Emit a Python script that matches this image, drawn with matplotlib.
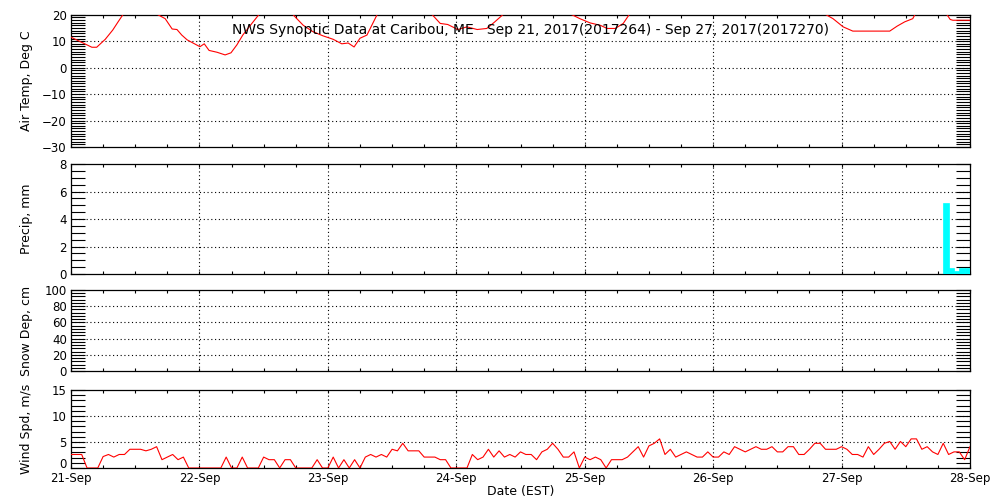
import matplotlib
matplotlib.use("Agg")
import matplotlib.pyplot as plt
from matplotlib.ticker import MultipleLocator, FixedLocator
import numpy as np

# ---------------- data ----------------
day_labels = ["21-Sep", "22-Sep", "23-Sep", "24-Sep", "25-Sep", "26-Sep", "27-Sep", "28-Sep"]
title_text = "NWS Synoptic Data at Caribou, ME   Sep 21, 2017(2017264) - Sep 27, 2017(2017270)"

# air temperature (hours since Sep 21 00 EST, deg C)
temp_hours = [0, 3.9, 4.8, 6.4, 7.8, 8.8, 9.7, 13.5, 17.6, 18.9, 19.8, 20.7, 21.7, 22.8,
              24.1, 24.9, 25.8, 27.3, 28.8, 29.9, 31.0, 32.1, 33.8, 35.1, 38.5, 41.5,
              42.2, 43.4, 45.2, 47.1, 49.0, 50.6, 51.8, 52.9, 54.0, 55.3, 57.2, 62.0,
              67.5, 69.0, 70.4, 72.3, 74.0, 75.9, 77.7, 79.2, 80.7, 87.0, 93.6, 95.1,
              97.0, 98.9, 100.2, 101.7, 103.2, 104.3, 110.0, 124.0, 135.0, 141.1, 142.4,
              144.3, 146.1, 153.0, 154.4, 155.8, 157.3, 157.7, 160.5, 163.7, 164.3,
              164.8, 167.6, 168]
temp_values = [11.5, 7.7, 7.7, 10.7, 14.2, 17.3, 20, 23, 18.5, 14.6, 14.4, 12.3, 10.5, 9.3,
               7.9, 9.0, 6.5, 5.8, 4.8, 5.6, 8.6, 12.3, 16.7, 20, 24, 20,
               18.5, 16, 13.6, 12, 10.7, 9.0, 9.3, 7.8, 11.1, 12.3, 20, 25,
               20, 16.7, 16.3, 14.4, 15.4, 14.4, 14.8, 17.3, 20, 25, 20, 18.5,
               16.9, 16, 14.8, 14.8, 16.7, 20, 26, 21, 27, 20, 18.5,
               15.4, 13.8, 13.8, 15.7, 17.3, 18.5, 20, 21.5, 20, 18.2,
               17.9, 17.9, 17.9]

# hourly precipitation (mm), start hour of each hourly bar
precip_hours = [163, 164, 165, 166, 167]
precip_values = [5.2, 0.45, 0.2, 0.45, 0.45]

# snow depth: no observations in period
snow_hours = []
snow_values = []

# hourly wind speed (m/s), hours 0..168
wind_values = [2.6, 2.6, 2.6, 0, 0, 0, 2.2, 2.6, 2.1, 2.6, 2.6, 3.6, 3.6, 3.6, 3.3, 3.6,
               4.1, 1.6, 2.1, 2.6, 1.6, 2.1, 0, 0, 0, 0, 0, 0, 0, 2.1, 0, 0,
               2.1, 0, 0, 0, 2.1, 1.6, 1.6, 0, 1.6, 1.6, 0, 0, 0, 0, 1.6, 0,
               0, 2.1, 0, 1.6, 0, 1.6, 0, 2.1, 2.6, 2.1, 2.6, 2.1, 3.6, 3.3,
               4.75, 3.3, 3.3, 3.3, 2.1, 2.1, 2.1, 1.6, 1.6, 0, 0, 0, 0, 2.6,
               1.6, 2.1, 3.6, 2.1, 3.3, 2.1, 2.6, 2.1, 3.1, 2.6, 2.6, 1.6, 3.1, 3.6,
               4.75, 3.6, 2.1, 2.1, 3.1, 0, 2.1, 1.6, 2.1, 1.6, 0, 1.6, 1.6, 1.6,
               2.1, 3.1, 4.1, 2.1, 4.25, 4.75, 5.6, 2.6, 3.6, 2.1, 2.6, 3.1, 2.6, 2.1,
               2.1, 3.1, 2.1, 2.1, 3.1, 2.6, 4.1, 3.6, 3.1, 3.6, 4.1, 3.6, 3.6, 4.1,
               3.1, 3.1, 4.1, 4.1, 2.6, 2.6, 3.6, 4.75, 4.75, 3.6, 3.6, 3.6, 4.1, 3.6,
               2.6, 2.6, 2.1, 4.1, 2.6, 3.6, 4.75, 5.1, 3.6, 5.1, 4.1, 5.6, 5.6, 3.6,
               4.1, 3.1, 2.6, 4.75, 2.6, 3.1, 3.1, 1.6, 4.1]
wind_hours = list(range(len(wind_values)))

# ---------------- plotting ----------------
W, H = 1000, 500
fig = plt.figure(figsize=(10, 5), dpi=100)
fig.patch.set_facecolor("white")
FS = 8.5

def box(l, t, r, b):
    return [l / W, 1 - b / H, (r - l) / W, (b - t) / H]

panels = [
    dict(rect=box(71, 14.7, 970, 147), ylim=(-30, 20), major=10, minor=1, label="Air Temp, Deg C"),
    dict(rect=box(71, 164, 970, 274), ylim=(0, 8), major=2, minor=0.5, label="Precip, mm"),
    dict(rect=box(71, 290, 970, 371), ylim=(0, 100), major=20, minor=4, label="Snow Dep, cm"),
    dict(rect=box(71, 390, 970, 468), ylim=(0, 15), major=5, minor=1, label="Wind Spd, m/s"),
]

axes = []
for i, p in enumerate(panels):
    ax = fig.add_axes(p["rect"])
    ax.set_xlim(0, 7)
    ax.set_ylim(*p["ylim"])
    for s in ax.spines.values():
        s.set_linewidth(0.9)
        s.set_color("black")
    ax.yaxis.set_major_locator(MultipleLocator(p["major"]))
    ax.yaxis.set_minor_locator(MultipleLocator(p["minor"]))
    ax.tick_params(axis="y", which="both", direction="in", left=True, right=True,
                   length=10, width=0.8, labelsize=FS, pad=3)
    ax.xaxis.set_major_locator(FixedLocator(np.arange(0, 8)))
    ax.xaxis.set_minor_locator(MultipleLocator(0.25))
    ax.tick_params(axis="x", which="both", direction="in", top=True, bottom=True,
                   length=2.2, width=0.8, labelsize=FS, pad=3)
    # dotted grid at interior majors
    y0, y1 = p["ylim"]
    for yv in np.arange(y0 + p["major"], y1, p["major"]):
        ax.axhline(yv, color="black", lw=0.8, ls=(0, (1, 2.4)), zorder=1)
    for xv in range(1, 7):
        ax.axvline(xv, color="black", lw=0.8, ls=(0, (1, 2.4)), zorder=1)
    ax.set_ylabel(p["label"], fontsize=FS + 0.5)
    ax.yaxis.set_label_coords(-0.0425, 0.5)
    if i < 3:
        ax.set_xticklabels([])
    else:
        ax.set_xticklabels(day_labels)
        ax.set_xlabel("Date (EST)", fontsize=FS + 0.5, labelpad=0)
    axes.append(ax)

ax_t, ax_p, ax_s, ax_w = axes
ax_t.plot(np.array(temp_hours) / 24.0, temp_values, color="red", lw=0.8, zorder=3)
ax_p.bar(np.array(precip_hours) / 24.0, precip_values, width=1 / 24.0, align="edge",
         color="cyan", edgecolor="cyan", linewidth=0.5, zorder=3)
if snow_hours:
    ax_s.plot(np.array(snow_hours) / 24.0, snow_values, color="red", lw=0.8)
ax_w.plot(np.array(wind_hours) / 24.0, wind_values, color="red", lw=0.8, zorder=3)

fig.text(530 / W, 1 - 30 / H, title_text, ha="center", va="center", fontsize=FS + 1.5)

# bottom "0" label of the wind panel sits slightly raised (as in the reference)
wind_ticks = ax_w.yaxis.get_major_ticks()
wind_locs = ax_w.yaxis.get_majorticklocs()
for t, loc in zip(wind_ticks, wind_locs):
    if abs(loc) < 1e-9:
        t.label1.set_verticalalignment("baseline")

fig.savefig("out.png", dpi=100, facecolor="white")
